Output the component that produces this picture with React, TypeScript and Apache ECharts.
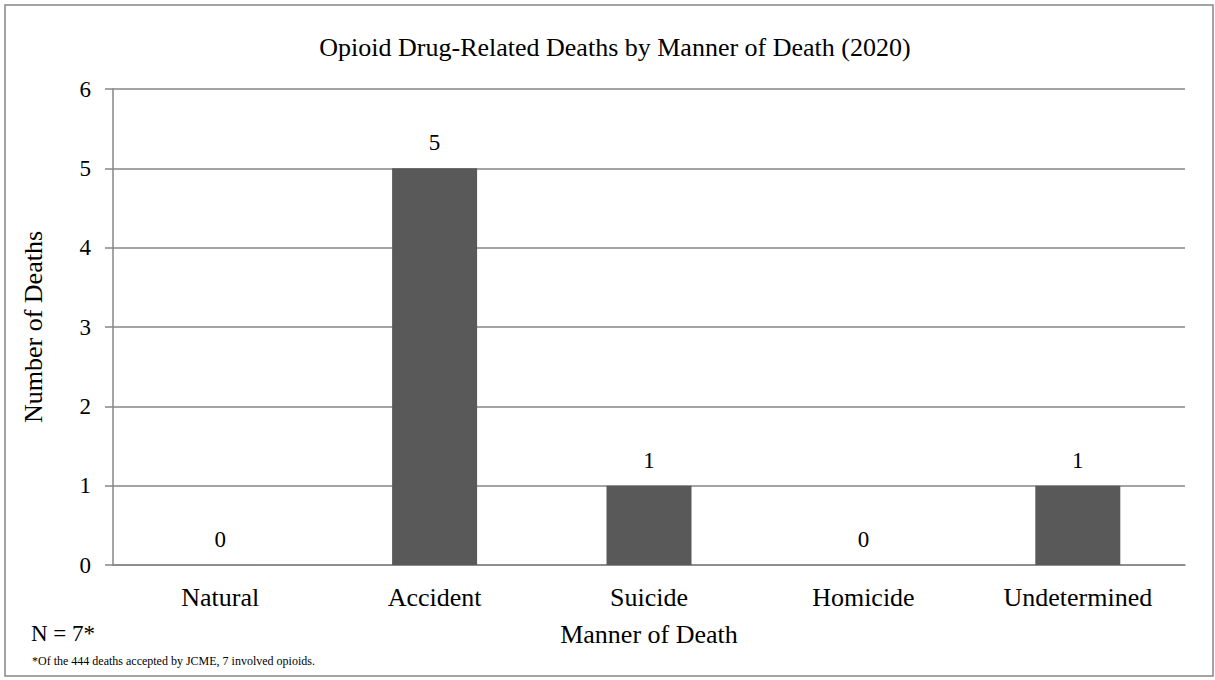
import React, { useEffect, useRef } from "react";
import * as echarts from "echarts";

const categories = ["Natural", "Accident", "Suicide", "Homicide", "Undetermined"];
const deaths = [0, 5, 1, 0, 1];
const titleText = "Opioid Drug-Related Deaths by Manner of Death (2020)";
const yAxisName = "Number of Deaths";
const xAxisName = "Manner of Death";
const nText = "N = 7*";
const footnote = "*Of the 444 deaths accepted by JCME, 7 involved opioids.";

const FONT = "'Liberation Serif', 'Times New Roman', serif";

export default function App() {
  const ref = useRef<HTMLDivElement>(null);
  useEffect(() => {
    const chart = echarts.init(ref.current!, null, { renderer: "svg" });
    chart.setOption({
      animation: false,
      backgroundColor: "#ffffff",
      textStyle: { fontFamily: FONT },
      title: {
        text: titleText,
        left: 610,
        top: 29,
        textAlign: "center",
        textStyle: { fontFamily: FONT, fontSize: 26, fontWeight: "normal", color: "#000" },
      },
      grid: { left: 113, right: 30, top: 89, bottom: 115 },
      xAxis: {
        type: "category",
        data: categories,
        name: xAxisName,
        nameLocation: "middle",
        nameGap: 56,
        nameTextStyle: { fontFamily: FONT, fontSize: 26, color: "#000" },
        axisLine: { lineStyle: { color: "#868686", width: 1.5 } },
        axisTick: { show: false },
        axisLabel: { fontFamily: FONT, fontSize: 26, color: "#000", margin: 19 },
      },
      yAxis: {
        type: "value",
        min: 0,
        max: 6,
        interval: 1,
        name: yAxisName,
        nameLocation: "middle",
        nameGap: 67,
        nameTextStyle: { fontFamily: FONT, fontSize: 26, color: "#000" },
        axisLine: { show: true, lineStyle: { color: "#868686", width: 1.5 } },
        axisTick: { show: true, length: 8, lineStyle: { color: "#868686", width: 1.5 } },
        axisLabel: { fontFamily: FONT, fontSize: 23, color: "#000", margin: 22 },
        splitLine: { lineStyle: { color: "#868686", width: 1.5 } },
      },
      series: [
        {
          type: "bar",
          data: deaths,
          barWidth: 85,
          itemStyle: { color: "#595959" },
          label: {
            show: true,
            position: "top",
            distance: 14,
            fontFamily: FONT,
            fontSize: 23,
            color: "#000",
          },
        },
      ],
      graphic: [
        {
          type: "rect",
          shape: { x: 5, y: 5, width: 1208, height: 671 },
          style: { fill: "none", stroke: "#868686", lineWidth: 1.5 },
          silent: true,
        },
        {
          type: "text",
          left: 31,
          top: 622,
          style: { text: nText, fontFamily: FONT, fontSize: 23, fill: "#000" },
        },
        {
          type: "text",
          left: 32,
          top: 655,
          style: { text: footnote, fontFamily: FONT, fontSize: 12, fill: "#000" },
        },
      ],
    });
    return () => chart.dispose();
  }, []);
  return (
    <div style={{ position: "fixed", left: 0, top: 0, width: 1215, height: 680, background: "#fff" }}>
      <div ref={ref} style={{ width: 1215, height: 680 }} />
    </div>
  );
}
